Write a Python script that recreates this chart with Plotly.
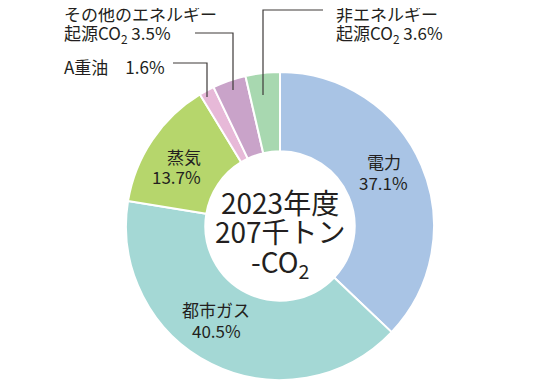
import plotly.graph_objects as go

labels = ["電力", "都市ガス", "蒸気", "A重油", "その他のエネルギー起源CO2", "非エネルギー起源CO2"]
values = [37.1, 40.5, 13.7, 1.6, 3.5, 3.6]
colors = ["#a9c4e5", "#a4d8d5", "#b6d66c", "#e7b9d8", "#c9a3c9", "#a8d8b0"]

W, H = 560, 380
OFF = 8  # page body margin offset
FONT = "Noto Sans CJK JP"
TXT = "#231f20"

def px(x):
    return (x - OFF) / W

def py(y):
    return 1 - (y - OFF) / H

fig = go.Figure(go.Pie(
    labels=labels, values=values, sort=False, direction="clockwise", rotation=0,
    hole=0.485, marker=dict(colors=colors, line=dict(color="white", width=2)),
    textinfo="none", hoverinfo="skip", showlegend=False,
    domain=dict(x=[px(280 - 155), px(280 + 155)], y=[py(380), py(72)]),
))

anns = []
def add(text, x, y, size=17, xanchor="center"):
    anns.append(dict(text=text, x=px(x), y=py(y), xref="paper", yref="paper",
                     xanchor=xanchor, yanchor="middle", showarrow=False,
                     font=dict(family=FONT, size=size, color=TXT)))

# slice labels
add("電力", 384, 162)
add(f"{values[0]}%", 384, 182)
add("都市ガス", 216, 309)
add(f"{values[1]}%", 216, 330)
add("蒸気", 203, 156, xanchor="right")
add(f"{values[2]}%", 203, 177, xanchor="right")
# outside labels
add("その他のエネルギー", 62, 13, xanchor="left")
add(f"起源CO<sub>2</sub> {values[4]}%", 62, 34, xanchor="left")
add(f"A重油　{values[3]}%", 62, 66, xanchor="left")
add("非エネルギー", 334, 13, xanchor="left")
add(f"起源CO<sub>2</sub> {values[5]}%", 334, 34, xanchor="left")
# center
add("2023年度", 280, 202, size=28)
add("207千トン", 280, 231, size=28)
add("-CO<sub>2</sub>", 280, 263, size=28)

LC = "#3e3a39"
shapes = []
def path(pts):
    d = "M " + " L ".join(f"{px(x)},{py(y)}" for x, y in pts)
    shapes.append(dict(type="path", path=d, xref="paper", yref="paper",
                       line=dict(color=LC, width=1.2)))

path([(195, 33), (233, 33), (233, 90)])
path([(173, 63), (207, 63), (207, 97)])
path([(323, 10), (263, 10), (263, 95)])

fig.update_layout(width=W, height=H, margin=dict(l=0, r=0, t=0, b=0),
                  paper_bgcolor="white", plot_bgcolor="white",
                  annotations=anns, shapes=shapes)
fig.write_html("out.html")
